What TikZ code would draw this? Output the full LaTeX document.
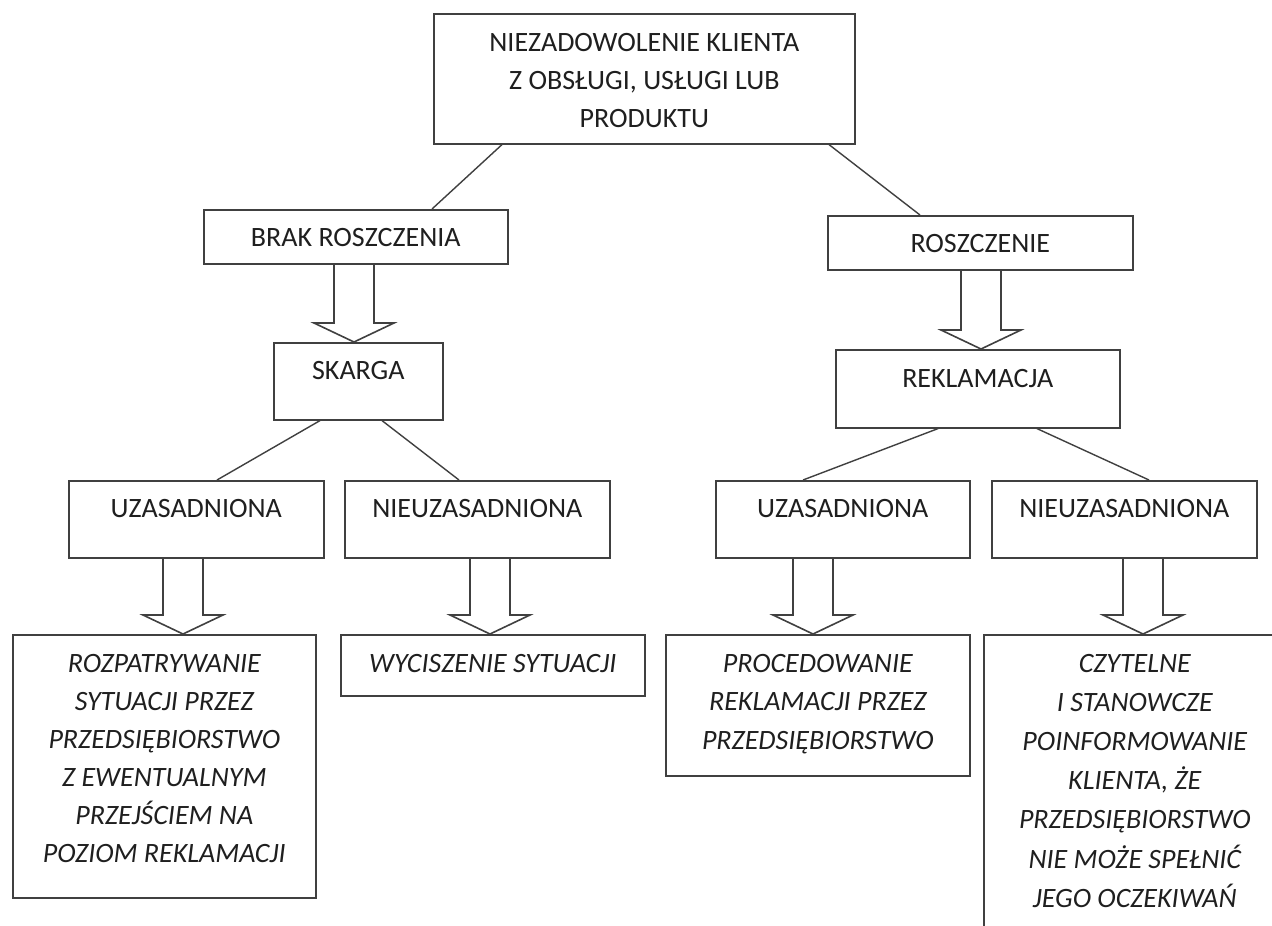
\documentclass[tikz,border=0pt]{standalone}
\usepackage{fontspec}
\setmainfont{Carlito}
\usetikzlibrary{calc}

\tikzset{
  box/.style={draw=black!75, line width=1.6pt, rectangle, inner sep=0pt, anchor=north west},
  link/.style={draw=black!75, line width=1.4pt},
  fat/.style={draw=black!75, line width=1.6pt, line join=miter},
  lbl/.style={anchor=base, inner sep=0pt, text=black!88, font=\fontsize{28}{38.5}\selectfont},
  lbli/.style={lbl, font=\fontsize{28}{38.5}\selectfont\itshape},
}

% hollow block arrow: #1 source box, #2 target box, #3 x of the arrow axis
\newcommand{\hollowarrow}[3]{%
  \draw[fat] let \p1=(#1.south), \p2=(#2.north) in
    (#3pt-20pt,\y1) -- (#3pt-20pt,\y2+19pt) -- (#3pt-40pt,\y2+19pt) -- (#3pt,\y2)
    -- (#3pt+40pt,\y2+19pt) -- (#3pt+20pt,\y2+19pt) -- (#3pt+20pt,\y1);}

\newcommand{\lines}[1]{\begin{tabular}[t]{@{}c@{}}#1\end{tabular}}

\begin{document}
\begin{tikzpicture}[x=1pt, y=-1pt]
\useasboundingbox (0,0) rectangle (1272,926);
\fill[white] (0,0) rectangle (1272,926);
\clip (0,0) rectangle (1272,926);

% boxes
\node[box, minimum width=421pt, minimum height=130pt] (top)    at (433,13)  {};
\node[box, minimum width=304pt, minimum height=54pt]  (brak)   at (203,209) {};
\node[box, minimum width=305pt, minimum height=54pt]  (rosz)   at (827,215) {};
\node[box, minimum width=169pt, minimum height=77pt]  (skarga) at (273,342) {};
\node[box, minimum width=284pt, minimum height=78pt]  (rekl)   at (835,349) {};
\node[box, minimum width=255pt, minimum height=77pt]  (uzL)    at (68,480)  {};
\node[box, minimum width=265pt, minimum height=77pt]  (nieuzL) at (344,480) {};
\node[box, minimum width=254pt, minimum height=77pt]  (uzR)    at (715,480) {};
\node[box, minimum width=265pt, minimum height=77pt]  (nieuzR) at (991,480) {};
\node[box, minimum width=303pt, minimum height=263pt] (roz)    at (12,634)  {};
\node[box, minimum width=304pt, minimum height=61pt]  (wyc)    at (340,634) {};
\node[box, minimum width=304pt, minimum height=141pt] (proc)   at (665,634) {};
\node[box, minimum width=302pt, minimum height=330pt] (czyt)   at (983,634) {};

% texts
\node[lbl] (top-t) at ($(top.north)+(0,38)$)
  {\lines{NIEZADOWOLENIE KLIENTA\\Z OBSŁUGI, USŁUGI LUB\\PRODUKTU}};
\node[lbl] (brak-t)   at ($(brak.north)+(0,37)$)   {BRAK ROSZCZENIA};
\node[lbl] (rosz-t)   at ($(rosz.north)+(0,37)$)   {ROSZCZENIE};
\node[lbl] (skarga-t) at ($(skarga.north)+(0,37)$) {SKARGA};
\node[lbl] (rekl-t)   at ($(rekl.north)+(0,38)$)   {REKLAMACJA};
\node[lbl] (uzL-t)    at ($(uzL.north)+(0,37)$)    {UZASADNIONA};
\node[lbl] (nieuzL-t) at ($(nieuzL.north)+(0,37)$) {NIEUZASADNIONA};
\node[lbl] (uzR-t)    at ($(uzR.north)+(0,37)$)    {UZASADNIONA};
\node[lbl] (nieuzR-t) at ($(nieuzR.north)+(0,37)$) {NIEUZASADNIONA};

\node[lbli, font=\fontsize{28}{38}\selectfont\itshape] (roz-t) at ($(roz.north)+(0,38)$)
  {\lines{ROZPATRYWANIE\\SYTUACJI PRZEZ\\PRZEDSIĘBIORSTWO\\Z EWENTUALNYM\\PRZEJŚCIEM NA\\POZIOM REKLAMACJI}};
\node[lbli] (wyc-t) at ($(wyc.north)+(0,38)$) {WYCISZENIE SYTUACJI};
\node[lbli] (proc-t) at ($(proc.north)+(0,38)$)
  {\lines{PROCEDOWANIE\\REKLAMACJI PRZEZ\\PRZEDSIĘBIORSTWO}};
\node[lbli, font=\fontsize{28}{39.2}\selectfont\itshape] (czyt-t) at ($(czyt.north)+(0,38)$)
  {\lines{CZYTELNE\\I STANOWCZE\\POINFORMOWANIE\\KLIENTA, ŻE\\PRZEDSIĘBIORSTWO\\NIE MOŻE SPEŁNIĆ\\JEGO OCZEKIWAŃ}};

% plain connectors
\draw[link] ($(top.south west)+(69,0)$)     -- ($(brak.north west)+(229,0)$);
\draw[link] ($(top.south west)+(396,0)$)    -- ($(rosz.north west)+(93,0)$);
\draw[link] ($(skarga.south west)+(47,0)$)  -- ($(uzL.north west)+(149,0)$);
\draw[link] ($(skarga.south west)+(109,0)$) -- ($(nieuzL.north west)+(115,0)$);
\draw[link] ($(rekl.south west)+(103,0)$)   -- ($(uzR.north west)+(88,0)$);
\draw[link] ($(rekl.south west)+(202,0)$)   -- ($(nieuzR.north west)+(158,0)$);

% block arrows
\hollowarrow{brak}{skarga}{354}
\hollowarrow{rosz}{rekl}{981}
\hollowarrow{uzL}{roz}{183}
\hollowarrow{nieuzL}{wyc}{490}
\hollowarrow{uzR}{proc}{813}
\hollowarrow{nieuzR}{czyt}{1143}
\end{tikzpicture}
\end{document}
